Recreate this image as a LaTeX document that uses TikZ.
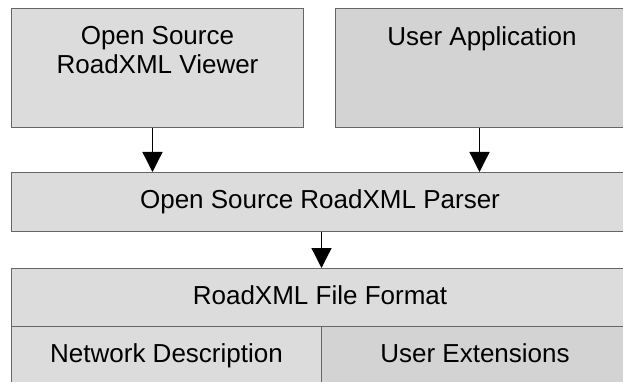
\documentclass[tikz,border=0pt]{standalone}
\usepackage{fontspec}
\setmainfont{Liberation Sans}
\usepackage{xcolor}
\usepackage{tikz}
\usetikzlibrary{arrows.meta,positioning,calc}

\definecolor{boxline}{HTML}{666666}
\definecolor{boxa}{HTML}{DCDCDC}
\definecolor{boxb}{HTML}{D3D3D3}

\begin{document}
\begin{tikzpicture}[
  x=1pt, y=-1pt,
  font=\fontsize{26}{29}\selectfont,
  >={Triangle[length=20pt, width=20pt]},
  blk/.style={draw=boxline, line width=1pt, anchor=north west, inner sep=0pt, text height=19pt, text depth=5.5pt},
  arr/.style={->, line width=1.3pt},
]
\useasboundingbox (0,0) rectangle (623,382);
\clip (0,0) rectangle (623,382);
% top row
\node[blk, fill=boxa, minimum width=292pt, minimum height=119pt] (viewer) at (11,8) {};
\node[anchor=north, align=center, inner sep=0pt] (viewertxt) at ([yshift=-18pt]viewer.north) {Open Source\\RoadXML Viewer};
\node[blk, fill=boxb, minimum width=293pt, minimum height=119pt] (app) at (335,8) {};
\node[anchor=north, inner sep=0pt] (apptxt) at ([yshift=-18pt]app.north) {User Application};
% parser
\node[blk, fill=boxa, minimum width=617pt, minimum height=59pt] (parser) at (11,172) {Open Source RoadXML Parser};
% file format
\node[blk, fill=boxa, minimum width=617pt, minimum height=58pt] (format) at (11,268) {RoadXML File Format};
\node[blk, fill=boxa, minimum width=310pt, minimum height=58pt] (network) at (11,326) {Network Description};
\node[blk, fill=boxb, minimum width=307pt, minimum height=58pt] (ext) at (321,326) {User Extensions};
% arrows
\draw[arr] ([xshift=-5pt]viewer.south) -- ([xshift=-5pt]viewer.south |- parser.north);
\draw[arr] ([xshift=-2.5pt]app.south) -- ([xshift=-2.5pt]app.south |- parser.north);
\draw[arr] ([xshift=1.5pt]parser.south) -- ([xshift=1.5pt]parser.south |- format.north);
\end{tikzpicture}
\end{document}
